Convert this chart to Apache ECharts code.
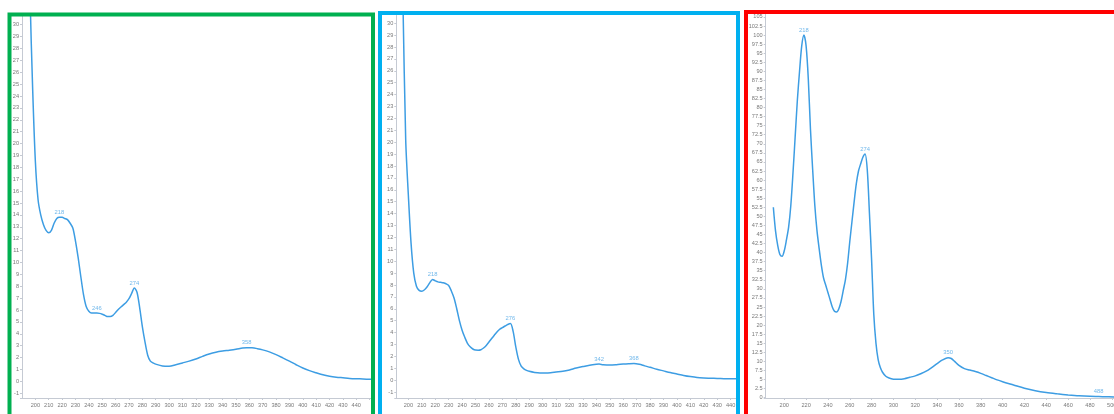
<!DOCTYPE html>
<html>
<head>
<meta charset="utf-8">
<title>UV spectra</title>
<script src="https://cdn.jsdelivr.net/npm/echarts@6/dist/echarts.min.js"></script>
<style>
  html, body { margin: 0; padding: 0; background: #ffffff; }
  #chart { width: 1114px; height: 414px; }
</style>
</head>
<body>
<div id="chart"></div>
<script>
// Spectrum 1 (green frame)
const greenWavelength = [194,196,198,200,202,204,206,208,210,212,214,216,218,220,222,224,226,228,230,232,234,236,238,240,242,244,246,248,250,252,254,256,258,260,262,264,266,268,270,272,274,276,278,280,282,284,286,288,290,295,300,305,310,315,320,325,330,335,340,345,350,355,358,362,366,370,375,380,385,390,395,400,405,410,415,420,425,430,435,440,445,451];
const greenAbsorbance = [45,32.5,24.5,18.5,15.3,14.0,13.2,12.7,12.5,12.7,13.3,13.7,13.8,13.8,13.7,13.6,13.3,12.9,11.8,10.4,8.8,7.3,6.3,5.9,5.75,5.75,5.75,5.72,5.65,5.55,5.45,5.45,5.55,5.8,6.05,6.25,6.45,6.65,6.95,7.4,7.85,7.5,6.2,4.6,3.3,2.2,1.7,1.55,1.45,1.3,1.28,1.4,1.55,1.7,1.88,2.1,2.3,2.45,2.55,2.62,2.7,2.8,2.83,2.82,2.75,2.65,2.48,2.25,1.98,1.7,1.4,1.12,0.9,0.72,0.55,0.43,0.35,0.3,0.25,0.22,0.2,0.17];
const greenPeaks = [218, 246, 274, 358];

// Spectrum 2 (blue frame)
const blueWavelength = [194,196,198,200,202,204,206,208,210,212,214,216,218,220,222,224,226,228,230,232,234,236,238,240,242,244,246,248,250,252,254,256,258,260,262,264,266,268,270,272,274,276,278,280,282,284,286,288,290,294,298,302,306,310,315,320,325,330,335,340,342,345,350,355,360,364,368,372,376,380,385,390,395,400,405,410,415,420,425,430,435,440,444];
const blueAbsorbance = [42,31.5,20.2,15.5,11.5,9.0,7.9,7.55,7.48,7.6,7.85,8.2,8.46,8.35,8.26,8.22,8.18,8.1,7.95,7.5,6.9,6.0,5.0,4.2,3.6,3.1,2.8,2.62,2.53,2.52,2.56,2.7,2.92,3.2,3.5,3.78,4.05,4.28,4.42,4.55,4.68,4.76,4.1,2.8,1.75,1.18,0.95,0.82,0.74,0.65,0.61,0.61,0.63,0.68,0.74,0.86,1.02,1.14,1.25,1.33,1.35,1.3,1.27,1.3,1.35,1.38,1.4,1.33,1.2,1.08,0.92,0.78,0.64,0.52,0.4,0.3,0.22,0.18,0.16,0.14,0.12,0.11,0.11];
const bluePeaks = [218, 276, 342, 368];

// Spectrum 3 (red frame)
const redWavelength = [190,192,194,196,198,200,202,204,206,208,210,212,214,216,218,220,222,224,226,228,230,232,234,236,238,240,242,244,246,248,250,252,254,256,258,260,262,264,266,268,270,272,274,276,278,280,282,284,286,288,290,293,296,300,305,310,315,320,325,330,335,340,345,350,353,356,360,365,370,375,380,385,390,395,400,410,420,430,440,450,460,470,480,488,495,505,512];
const redAbsorbance = [52.5,46,42,39.5,39,40.5,43.5,47,53,62,72,82,90,97,100,97,88,74,63,53,46,41,36.5,33,31,29,27,25,23.8,23.6,24.5,26.5,29.5,32.5,37,43,48.5,54,59,62.5,64.5,66.3,67.2,63,51,38,23,15,10.5,8.3,7,5.9,5.4,5.1,5.05,5.2,5.6,6.0,6.6,7.3,8.3,9.4,10.4,11.0,10.8,10.0,8.9,8.0,7.6,7.2,6.7,6.1,5.5,4.9,4.4,3.5,2.6,1.9,1.4,1.05,0.75,0.5,0.35,0.3,0.25,0.2,0.2];
const redPeaks = [218, 274, 350, 488];

const axisName = 'Wavelength [nm]';

const lineColor = '#3d9de3';
const peakColor = '#4ea6e6';
const axisColor = '#c5cad3';
const textColor = '#7a7a7a';
const fontFamily = '"Liberation Sans", Arial, sans-serif';

function pairs(xs, ys) {
  return xs.map((x, i) => [x, ys[i]]);
}
function peakPoints(xs, ys, peaks) {
  return peaks.map(p => [p, ys[xs.indexOf(p)]]);
}
// label only the round tick values, up to the last labelled one
function onStep(step, last) {
  return v => (Math.abs(v / step - Math.round(v / step)) < 1e-6 && v <= last ? String(v) : '');
}

const panels = [
  { xs: greenWavelength, ys: greenAbsorbance, peaks: greenPeaks,
    grid: { left: 22, top: 16.4, width: 349, height: 381.6 },
    x: [190, 451, 10, 440], y: [-1.4, 30.7, 1] },
  { xs: blueWavelength, ys: blueAbsorbance, peaks: bluePeaks,
    grid: { left: 396.3, top: 15.5, width: 339.7, height: 382.5 },
    x: [191, 444, 10, 440], y: [-1.5, 30.65, 1] },
  { xs: redWavelength, ys: redAbsorbance, peaks: redPeaks,
    grid: { left: 765.7, top: 14, width: 357, height: 384 },
    x: [183, 510, 20, 500], y: [-0.1, 105.8, 2.5] }
];

const grid = [], xAxis = [], yAxis = [], series = [];
panels.forEach((p, i) => {
  grid.push(Object.assign({ outerBoundsMode: 'none', containLabel: false }, p.grid));
  xAxis.push({
    type: 'value', gridIndex: i,
    min: p.x[0], max: p.x[1],
    minInterval: p.x[2], maxInterval: p.x[2],
    splitNumber: Math.round((p.x[1] - p.x[0]) / p.x[2]),
    name: axisName, nameLocation: 'middle', nameGap: 11,
    nameTextStyle: { fontSize: 5.8, color: textColor, fontFamily: fontFamily },
    axisLine: { show: true, onZero: false, lineStyle: { color: axisColor, width: 1 } },
    axisTick: { show: true, length: 2, lineStyle: { color: axisColor } },
    axisLabel: { showMinLabel: false, showMaxLabel: false, margin: 4,
      fontSize: 5.6, color: textColor, fontFamily: fontFamily, formatter: onStep(p.x[2], p.x[3]) },
    splitLine: { show: false }
  });
  yAxis.push({
    type: 'value', gridIndex: i,
    min: p.y[0], max: p.y[1],
    minInterval: p.y[2], maxInterval: p.y[2],
    splitNumber: Math.round((p.y[1] - p.y[0]) / p.y[2]),
    axisLine: { show: true, lineStyle: { color: axisColor, width: 1 } },
    axisTick: { show: true, length: 2, lineStyle: { color: axisColor } },
    axisLabel: { showMinLabel: true, showMaxLabel: false, margin: 3,
      fontSize: 5.6, color: textColor, fontFamily: fontFamily, formatter: onStep(p.y[2], p.y[1]) },
    splitLine: { show: false }
  });
  series.push({
    type: 'line', xAxisIndex: i, yAxisIndex: i,
    data: pairs(p.xs, p.ys),
    showSymbol: false, smooth: 0.3, clip: true,
    lineStyle: { color: lineColor, width: 1.5 },
    silent: true, animation: false
  });
  series.push({
    type: 'scatter', xAxisIndex: i, yAxisIndex: i,
    data: peakPoints(p.xs, p.ys, p.peaks),
    symbolSize: 0.1, itemStyle: { color: 'rgba(0,0,0,0)' },
    label: { show: true, position: 'top', distance: 2,
      formatter: d => String(d.value[0]),
      fontSize: 5.8, color: peakColor, fontFamily: fontFamily },
    silent: true, animation: false
  });
});

// coloured frames around the three spectra
const frames = [
  { x: 9.5, y: 14.5, w: 363.5, color: '#00b050' },
  { x: 380, y: 13, w: 358, color: '#00b0f0' },
  { x: 746, y: 12, w: 420, color: '#ff0000' }
].map(f => ({
  type: 'rect', silent: true, z: 100,
  shape: { x: f.x, y: f.y, width: f.w, height: 440 },
  style: { fill: null, stroke: f.color, lineWidth: 4 }
}));

const chart = echarts.init(document.getElementById('chart'), null, { renderer: 'canvas' });
chart.setOption({
  animation: false,
  backgroundColor: '#ffffff',
  grid: grid, xAxis: xAxis, yAxis: yAxis, series: series,
  graphic: frames
});
</script>
</body>
</html>
